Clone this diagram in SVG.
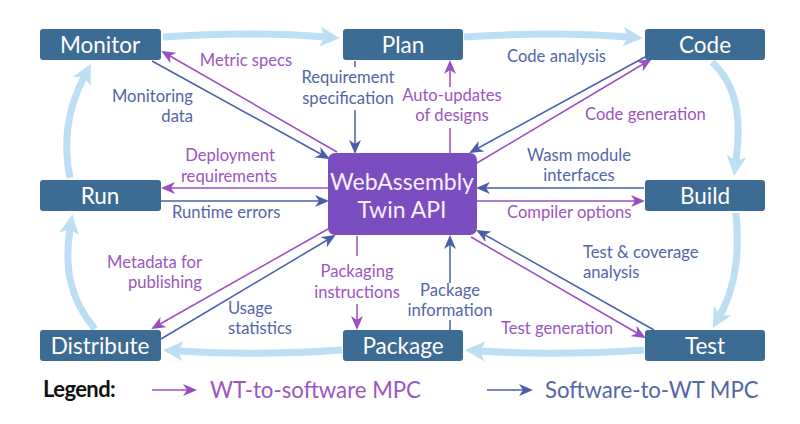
<svg xmlns="http://www.w3.org/2000/svg" width="800" height="424" viewBox="0 0 800 424">
  <style>
    .node rect { fill: #3c6b94; }
    .node text { fill: #ffffff; font-family: Lato, "Open Sans", sans-serif; font-size: 22.5px; text-anchor: middle; }
    .core rect { fill: #7c4cc1; }
    .core text { fill: #f6f0ff; font-family: Lato, "Open Sans", sans-serif; font-size: 23px; text-anchor: middle; }
    .cycle { fill: none; stroke: #bddff4; stroke-width: 7; }
    .sw { fill: none; stroke: #4b5ea9; stroke-width: 1.5; }
    .wt { fill: none; stroke: #9a4fc1; stroke-width: 1.5; }
    .lbl { font-family: Lato, "Open Sans", sans-serif; font-size: 16.6px; }
    .lsw { fill: #5565a9; }
    .lwt { fill: #9a56c2; }
    .mid { text-anchor: middle; }
    .end { text-anchor: end; }
    .legend { font-family: Lato, "Open Sans", sans-serif; font-size: 22.2px; }
  </style>
  <defs>
    <marker id="head-cycle" viewBox="0 0 20 20" refX="5" refY="10" markerWidth="20" markerHeight="20" markerUnits="userSpaceOnUse" orient="auto">
      <path d="M0,0 L20,10 L0,20 L5,10 z" fill="#bddff4"/>
    </marker>
    <marker id="head-sw" viewBox="0 0 14 12" refX="12" refY="6" markerWidth="14" markerHeight="12" markerUnits="userSpaceOnUse" orient="auto">
      <path d="M0,0 L14,6 L0,12 L4,6 z" fill="#4b5ea9"/>
    </marker>
    <marker id="head-wt" viewBox="0 0 14 12" refX="12" refY="6" markerWidth="14" markerHeight="12" markerUnits="userSpaceOnUse" orient="auto">
      <path d="M0,0 L14,6 L0,12 L4,6 z" fill="#9a4fc1"/>
    </marker>
  </defs>

  <!-- development cycle -->
  <g id="cycle">
    <path class="cycle" d="M163,37 Q250,31 325,37" marker-end="url(#head-cycle)"/>
    <path class="cycle" d="M464,37 Q553,31 628,37" marker-end="url(#head-cycle)"/>
    <path class="cycle" d="M712,62 C742,90 740,130 736,161" marker-end="url(#head-cycle)"/>
    <path class="cycle" d="M736,213 C740,255 734,290 720,315" marker-end="url(#head-cycle)"/>
    <path class="cycle" d="M644,350 Q555,356 480,351" marker-end="url(#head-cycle)"/>
    <path class="cycle" d="M342,350 Q255,356 178,351" marker-end="url(#head-cycle)"/>
    <path class="cycle" d="M95,329 C70,300 64,268 70,229" marker-end="url(#head-cycle)"/>
    <path class="cycle" d="M70,178 C62,140 68,108 84,77" marker-end="url(#head-cycle)"/>
  </g>

  <!-- model-property connectors -->
  <g id="connectors">
    <line class="sw" x1="152" y1="61" x2="328" y2="158" marker-end="url(#head-sw)"/>
    <line class="wt" x1="337" y1="152" x2="163" y2="52" marker-end="url(#head-wt)"/>
    <line class="sw" x1="355" y1="61" x2="355" y2="67"/>
    <line class="sw" x1="355" y1="110" x2="355" y2="152" marker-end="url(#head-sw)"/>
    <line class="wt" x1="450" y1="153" x2="450" y2="128"/>
    <line class="wt" x1="450" y1="87" x2="450" y2="62" marker-end="url(#head-wt)"/>
    <line class="sw" x1="645" y1="57" x2="471" y2="152" marker-end="url(#head-sw)"/>
    <line class="wt" x1="477" y1="163" x2="650" y2="60" marker-end="url(#head-wt)"/>
    <line class="sw" x1="644" y1="188" x2="478" y2="188" marker-end="url(#head-sw)"/>
    <line class="wt" x1="477" y1="201" x2="643" y2="201" marker-end="url(#head-wt)"/>
    <line class="wt" x1="328" y1="188" x2="163" y2="188" marker-end="url(#head-wt)"/>
    <line class="sw" x1="161" y1="201" x2="327" y2="201" marker-end="url(#head-sw)"/>
    <line class="wt" x1="328" y1="229" x2="153" y2="328" marker-end="url(#head-wt)"/>
    <line class="sw" x1="161" y1="339" x2="334" y2="236" marker-end="url(#head-sw)"/>
    <line class="wt" x1="357" y1="236" x2="357" y2="256"/>
    <line class="wt" x1="357" y1="304" x2="357" y2="328" marker-end="url(#head-wt)"/>
    <line class="sw" x1="450" y1="330" x2="450" y2="320"/>
    <line class="sw" x1="450" y1="283" x2="450" y2="237" marker-end="url(#head-sw)"/>
    <line class="sw" x1="654" y1="330" x2="478" y2="231" marker-end="url(#head-sw)"/>
    <line class="wt" x1="471" y1="237" x2="644" y2="337" marker-end="url(#head-wt)"/>
  </g>

  <!-- connector labels -->
  <g id="labels" class="lbl">
    <text class="lwt mid" x="246" y="66">Metric specs</text>
    <text class="lsw end" x="193" y="102">Monitoring</text>
    <text class="lsw end" x="193" y="122">data</text>
    <text class="lsw mid" x="348" y="83">Requirement</text>
    <text class="lsw mid" x="348" y="104">specification</text>
    <text class="lwt mid" x="452" y="101">Auto-updates</text>
    <text class="lwt mid" x="452" y="121">of designs</text>
    <text class="lsw" x="507" y="62">Code analysis</text>
    <text class="lwt" x="585" y="120">Code generation</text>
    <text class="lwt mid" x="230" y="161">Deployment</text>
    <text class="lwt mid" x="229" y="182">requirements</text>
    <text class="lsw" x="172" y="218">Runtime errors</text>
    <text class="lsw mid" x="579" y="161">Wasm module</text>
    <text class="lsw mid" x="579" y="181">interfaces</text>
    <text class="lwt" x="507" y="218">Compiler options</text>
    <text class="lwt end" x="202" y="268">Metadata for</text>
    <text class="lwt end" x="202" y="288">publishing</text>
    <text class="lsw" x="228" y="314">Usage</text>
    <text class="lsw" x="228" y="334">statistics</text>
    <text class="lwt mid" x="357" y="277">Packaging</text>
    <text class="lwt mid" x="357" y="298">instructions</text>
    <text class="lsw mid" x="450" y="296">Package</text>
    <text class="lsw mid" x="450" y="316">information</text>
    <text class="lsw" x="583" y="258">Test &amp; coverage</text>
    <text class="lsw" x="583" y="278">analysis</text>
    <text class="lwt" x="501" y="334">Test generation</text>
  </g>

  <!-- stages -->
  <g id="monitor" class="node"><rect x="40" y="29" width="121" height="31" rx="3"/><text x="100" y="53">Monitor</text></g>
  <g id="plan" class="node"><rect x="343" y="29" width="120" height="31" rx="3"/><text x="403" y="53">Plan</text></g>
  <g id="code" class="node"><rect x="645" y="29" width="120" height="31" rx="3"/><text x="705" y="53">Code</text></g>
  <g id="run" class="node"><rect x="40" y="180" width="121" height="31" rx="3"/><text x="100" y="204">Run</text></g>
  <g id="build" class="node"><rect x="645" y="180" width="120" height="31" rx="3"/><text x="705" y="204">Build</text></g>
  <g id="distribute" class="node"><rect x="40" y="330" width="121" height="31" rx="3"/><text x="100" y="354">Distribute</text></g>
  <g id="package" class="node"><rect x="343" y="330" width="120" height="31" rx="3"/><text x="403" y="354">Package</text></g>
  <g id="test" class="node"><rect x="645" y="330" width="120" height="31" rx="3"/><text x="705" y="354">Test</text></g>

  <g id="twin-api" class="core">
    <rect x="328" y="153" width="149" height="82" rx="7"/>
    <text x="402" y="190">WebAssembly</text>
    <text x="402" y="218">Twin API</text>
  </g>

  <!-- legend -->
  <g id="legend">
    <text x="43" y="397" font-family="Lato, sans-serif" font-size="22" font-weight="bold" fill="#111" letter-spacing="-0.6">Legend:</text>
    <line class="wt" x1="152" y1="390" x2="195" y2="390" marker-end="url(#head-wt)"/>
    <text class="legend" x="210" y="398" fill="#9a56c2">WT-to-software MPC</text>
    <line class="sw" x1="487" y1="390" x2="531" y2="390" marker-end="url(#head-sw)"/>
    <text class="legend" x="545" y="398" fill="#5565a9">Software-to-WT MPC</text>
  </g>
</svg>
